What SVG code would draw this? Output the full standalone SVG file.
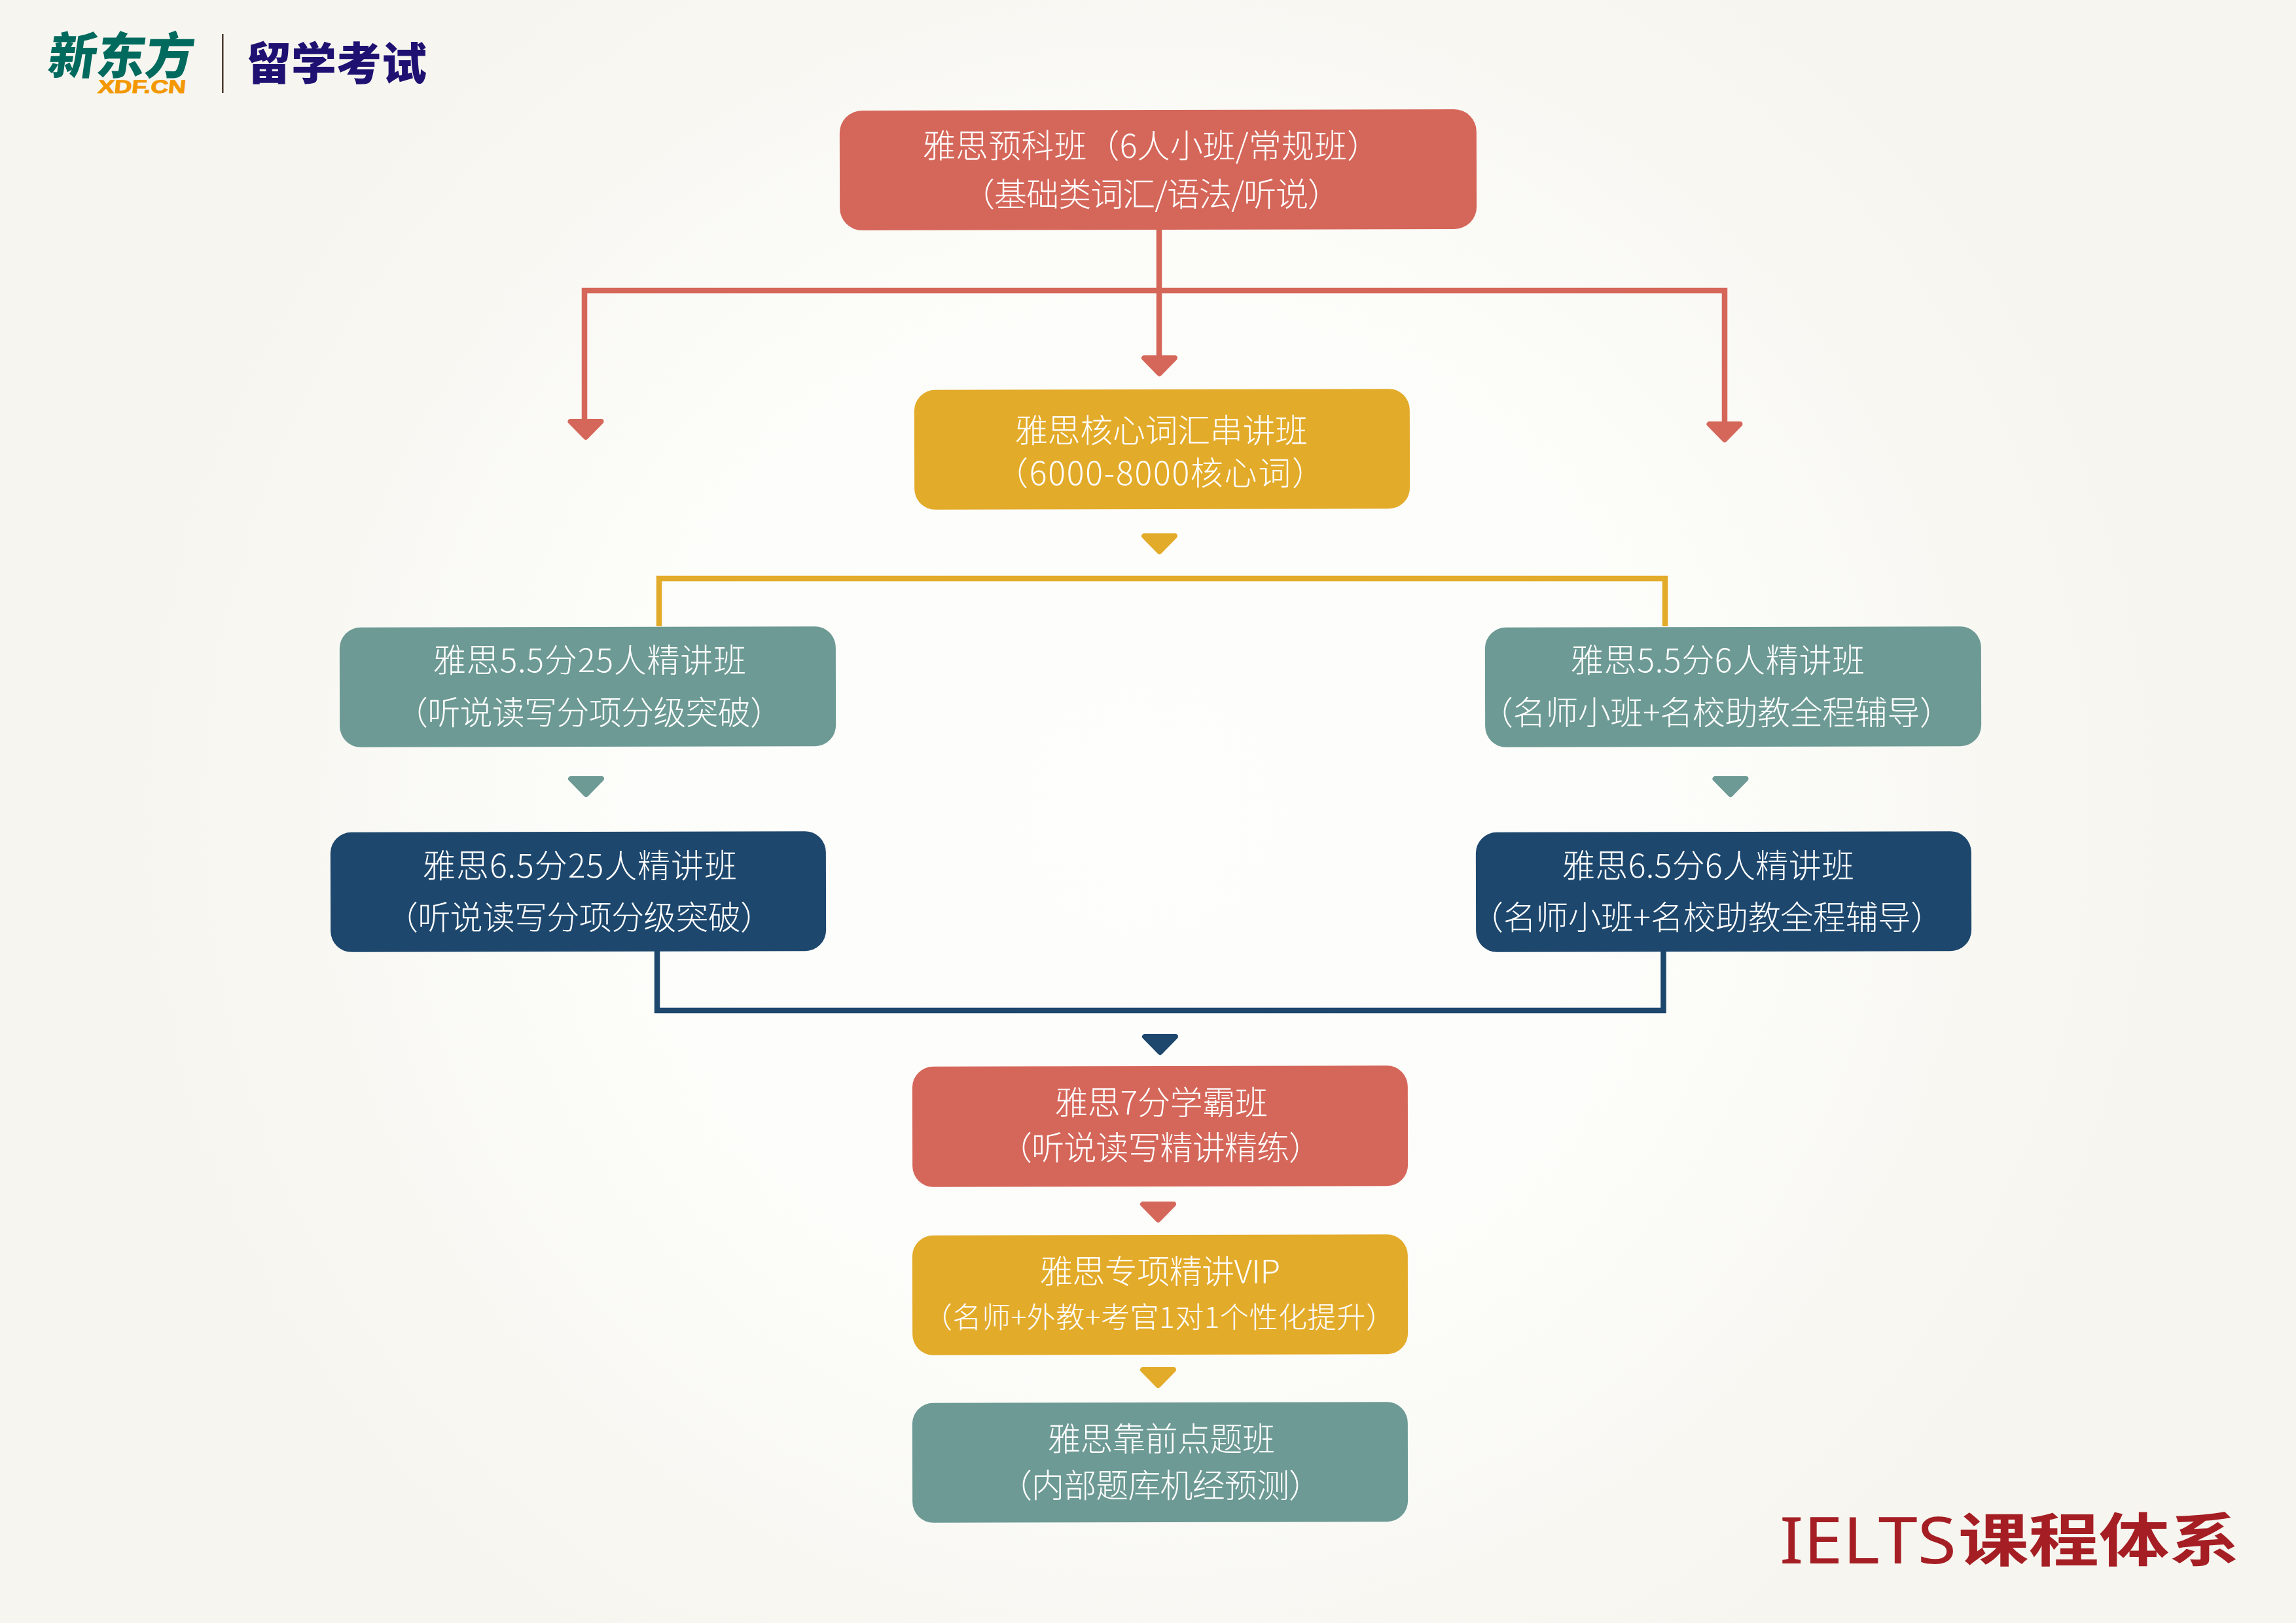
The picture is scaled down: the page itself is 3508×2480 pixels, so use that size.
<svg xmlns="http://www.w3.org/2000/svg" width="3508" height="2480" viewBox="0 0 3508 2480">
<style>
.box{transform-box:fill-box;transform-origin:center;transform:rotate(-.13deg)}
.t{font-family:"Noto Sans CJK SC","Noto Sans",sans-serif;font-weight:300;font-size:50px;fill:#fff}
.s{font-size:44px}
.red{fill:#d5675a;stroke:#d5675a}
.yel{fill:#e3ab2a;stroke:#e3ab2a}
.tea{fill:#6d9a94;stroke:#6d9a94}
.nav{fill:#1d476d;stroke:#1d476d}
.box.red,.box.yel,.box.tea,.box.nav{stroke:none}
.c{fill:none;stroke-width:8.5}
.h{stroke-width:8;stroke-linejoin:round}
.cr{stroke:#d5675a}.cy{stroke:#e3ab2a}.cn{stroke:#1d476d}
.logo{font-family:"Noto Sans CJK SC","Noto Sans",sans-serif;font-weight:900}
</style>
<defs>
<radialGradient id="bg" cx="50%" cy="50%" r="62%" gradientTransform="translate(.5 .5) scale(.72 1) translate(-.5 -.5)">
<stop offset="0" stop-color="#fefefd"/><stop offset=".55" stop-color="#fcfcf9"/><stop offset="1" stop-color="#f6f5ef"/>
</radialGradient>
<path id="tri" d="M-23.500 4L23.500 4L0 28Z"/>
</defs>
<rect id="background" width="3508" height="2480" fill="url(#bg)"/>
<g id="logo">
<text class="logo" transform="translate(71 113) skewX(-8)" font-size="76" fill="#006a5e" textLength="222" lengthAdjust="spacingAndGlyphs">新东方</text>
<text class="logo" transform="translate(149 142) skewX(-6)" font-size="28" fill="#f39800" stroke="#f39800" stroke-width="1" textLength="134" lengthAdjust="spacingAndGlyphs" style="font-family:'Liberation Sans',sans-serif;font-weight:700">XDF.CN</text>
<rect x="339" y="52" width="2.500" height="90" fill="#4a3a30"/>
<text class="logo" x="376" y="122" font-size="68" fill="#1f1172" textLength="276" lengthAdjust="spacingAndGlyphs">留学考试</text>
</g>
<g id="connectors">
<path class="c cr" d="M1771 351V548"/>
<path class="c cr" d="M893 640V444H2635V644"/>
<path class="c cy" d="M1007 957V884H2544V957"/>
<path class="c cn" d="M1004 1453V1544H2541.500V1453"/>
<use href="#tri" x="1771.500" y="543" class="red h"/>
<use href="#tri" x="895" y="640" class="red h"/>
<use href="#tri" x="2635" y="644" class="red h"/>
<use href="#tri" x="1771.500" y="815" class="yel h"/>
<use href="#tri" x="895.500" y="1186" class="tea h"/>
<use href="#tri" x="2644" y="1186" class="tea h"/>
<use href="#tri" x="1772.500" y="1580" class="nav h"/>
<use href="#tri" x="1769.500" y="1836" class="red h"/>
<use href="#tri" x="1769.500" y="2089" class="yel h"/>
</g>
<g id="node-prep">
<rect class="box red" x="1283" y="168" width="973" height="183" rx="34"/>
<text class="t" x="1410" y="241" textLength="698">雅思预科班（6人小班/常规班）</text>
<text class="t" x="1470" y="315" textLength="578">（基础类词汇/语法/听说）</text>
</g>
<g id="node-vocab">
<rect class="box yel" x="1397" y="595" width="757" height="183" rx="32"/>
<text class="t" x="1551" y="676" textLength="447">雅思核心词汇串讲班</text>
<text class="t" x="1521" y="741" textLength="503">（6000-8000核心词）</text>
</g>
<g id="node-55-25">
<rect class="box tea" x="519" y="958" width="758" height="183" rx="32"/>
<text class="t" x="662" y="1027" textLength="478">雅思5.5分25人精讲班</text>
<text class="t" x="604" y="1107" textLength="592">（听说读写分项分级突破）</text>
</g>
<g id="node-65-25">
<rect class="box nav" x="505" y="1271" width="757" height="183" rx="32"/>
<text class="t" x="646" y="1341" textLength="480">雅思6.5分25人精讲班</text>
<text class="t" x="589" y="1420" textLength="592">（听说读写分项分级突破）</text>
</g>
<g id="node-55-6">
<rect class="box tea" x="2269" y="958" width="758" height="183" rx="32"/>
<text class="t" x="2400" y="1027" textLength="449">雅思5.5分6人精讲班</text>
<text class="t" x="2262" y="1107" textLength="721">（名师小班+名校助教全程辅导）</text>
</g>
<g id="node-65-6">
<rect class="box nav" x="2255" y="1271" width="757" height="183" rx="32"/>
<text class="t" x="2387" y="1341" textLength="446">雅思6.5分6人精讲班</text>
<text class="t" x="2247" y="1420" textLength="722">（名师小班+名校助教全程辅导）</text>
</g>
<g id="node-7">
<rect class="box red" x="1394" y="1629" width="757" height="184" rx="32"/>
<text class="t" x="1612" y="1703" textLength="325">雅思7分学霸班</text>
<text class="t" x="1527" y="1772" textLength="492">（听说读写精讲精练）</text>
</g>
<g id="node-vip">
<rect class="box yel" x="1394" y="1887" width="757" height="183" rx="32"/>
<text class="t" x="1589" y="1961" textLength="367">雅思专项精讲VIP</text>
<text class="t s" x="1411" y="2029" textLength="720">（名师+外教+考官1对1个性化提升）</text>
</g>
<g id="node-final">
<rect class="box tea" x="1394" y="2143" width="757" height="183" rx="32"/>
<text class="t" x="1601" y="2217" textLength="347">雅思靠前点题班</text>
<text class="t" x="1527" y="2288" textLength="492">（内部题库机经预测）</text>
</g>
<g id="title">
<text x="2719" y="2389" font-family="'Noto Sans','Liberation Sans',sans-serif" font-size="98" font-weight="400" fill="#a51e24" textLength="270" lengthAdjust="spacingAndGlyphs">IELTS</text>
<text class="logo" x="2992" y="2385" font-size="88" style="font-weight:700" fill="#a51e24" textLength="430" lengthAdjust="spacingAndGlyphs">课程体系</text>
</g>
</svg>
